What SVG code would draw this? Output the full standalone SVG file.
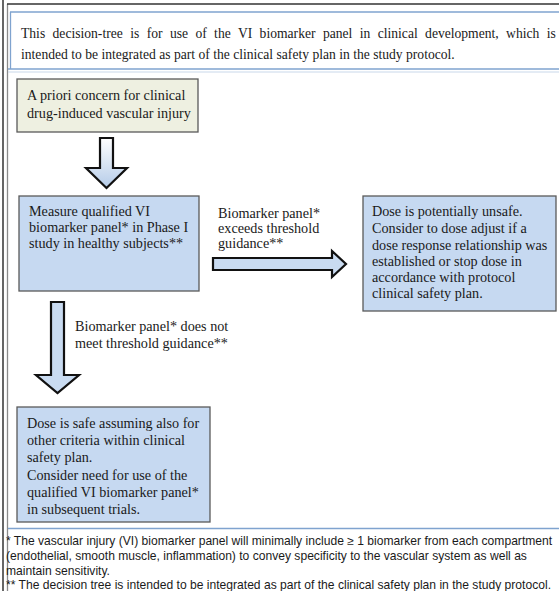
<svg xmlns="http://www.w3.org/2000/svg" width="559" height="591" viewBox="0 0 559 591">
  <defs>
    <linearGradient id="downFill" x1="0" y1="0" x2="0" y2="1">
      <stop offset="0" stop-color="#ffffff"/>
      <stop offset="1" stop-color="#b4cbe8"/>
    </linearGradient>
    <style>
      .serif { font-family: "Liberation Serif", "Times New Roman", serif; fill: #1a1a1a; }
      .head { font-size: 13.6px; }
      .justified { word-spacing: 4px; }
      .box-text { font-size: 14.2px; }
      .note { font-family: "Liberation Sans", Arial, sans-serif; font-size: 12.1px; fill: #1a1a1a; }
      .box { stroke: #5a5a5a; stroke-width: 1.3; }
      .blue { fill: #c6d9f1; }
      .cream { fill: #eef0e1; }
      .arrow { stroke: #111111; stroke-width: 2.2; stroke-linejoin: miter; }
      .frame { fill: none; stroke: #333333; stroke-width: 1.5; }
      .rule { stroke: #7fa3cf; stroke-width: 1.3; fill: none; }
    </style>
  </defs>

  <rect width="559" height="591" fill="#ffffff"/>

  <!-- page frame -->
  <g id="frame">
    <line class="frame" x1="3" y1="0" x2="3" y2="591"/>
    <line x1="7.5" y1="4" x2="7.5" y2="591" stroke="#8a8a8a" stroke-width="1.3"/>
    <line class="frame" x1="7" y1="4" x2="559" y2="4"/>
    <line class="rule" x1="10.5" y1="12" x2="10.5" y2="69"/>
    <line class="rule" x1="10" y1="12" x2="559" y2="12"/>
    <line class="rule" x1="8" y1="69" x2="559" y2="69"/>
    <line x1="8" y1="72" x2="559" y2="72" stroke="#c9d8ea" stroke-width="1"/>
    <line class="rule" x1="8" y1="528.5" x2="559" y2="528.5"/>
  </g>

  <!-- header note (first line justified) -->
  <g id="header">
    <text class="serif head justified" x="21" y="38">This decision-tree is for use of the VI biomarker panel in clinical development, which is</text>
    <text class="serif head" x="21" y="59">intended to be integrated as part of the clinical safety plan in the study protocol.</text>
  </g>

  <!-- decision nodes -->
  <g id="concern">
    <rect class="box cream" x="17" y="79" width="181" height="53"/>
    <text class="serif box-text" x="27" y="100">A priori concern for clinical</text>
    <text class="serif box-text" x="27" y="118">drug-induced vascular injury</text>
  </g>

  <g id="measure">
    <rect class="box blue" x="19" y="196" width="180" height="95"/>
    <text class="serif box-text" x="29" y="216">Measure qualified VI</text>
    <text class="serif box-text" x="29" y="232">biomarker panel* in Phase I</text>
    <text class="serif box-text" x="29" y="248">study in healthy subjects**</text>
  </g>

  <g id="unsafe">
    <rect class="box blue" x="363" y="196" width="193" height="115"/>
    <text class="serif box-text" x="372" y="216">Dose is potentially unsafe.</text>
    <text class="serif box-text" x="372" y="233">Consider to dose adjust if a</text>
    <text class="serif box-text" x="372" y="250">dose response relationship was</text>
    <text class="serif box-text" x="372" y="266">established or stop dose in</text>
    <text class="serif box-text" x="372" y="282">accordance with protocol</text>
    <text class="serif box-text" x="372" y="298">clinical safety plan.</text>
  </g>

  <g id="safe">
    <rect class="box blue" x="17" y="407" width="193" height="115"/>
    <text class="serif box-text" x="27" y="428">Dose is safe assuming also for</text>
    <text class="serif box-text" x="27" y="445">other criteria within clinical</text>
    <text class="serif box-text" x="27" y="462">safety plan.</text>
    <text class="serif box-text" x="27" y="480">Consider need for use of the</text>
    <text class="serif box-text" x="27" y="497">qualified VI biomarker panel*</text>
    <text class="serif box-text" x="27" y="514">in subsequent trials.</text>
  </g>

  <!-- connectors: block arrows with their labels -->
  <g id="connectors">
    <polygon class="arrow" fill="url(#downFill)" points="100,138 113,138 113,168 127,168 106.5,188 86,168 100,168"/>
    <polygon class="arrow" fill="#c9dbf1" points="213,258 332,258 332,251 346,264 332,277 332,270 213,270"/>
    <polygon class="arrow" fill="#c9dbf1" points="51,302 64,302 64,375 79,375 57.5,393 36,375 51,375"/>
    <text class="serif box-text" x="218" y="218">Biomarker panel*</text>
    <text class="serif box-text" x="218" y="233">exceeds threshold</text>
    <text class="serif box-text" x="218" y="248">guidance**</text>
    <text class="serif box-text" x="75" y="331">Biomarker panel* does not</text>
    <text class="serif box-text" x="75" y="348">meet threshold guidance**</text>
  </g>

  <!-- footnotes -->
  <g id="footnotes">
    <text class="note" x="6" y="545">* The vascular injury (VI) biomarker panel will minimally include ≥ 1 biomarker from each compartment</text>
    <text class="note" x="6" y="560">(endothelial, smooth muscle, inflammation) to convey specificity to the vascular system as well as</text>
    <text class="note" x="6" y="575">maintain sensitivity.</text>
    <text class="note" x="6" y="589">** The decision tree is intended to be integrated as part of the clinical safety plan in the study protocol.</text>
  </g>
</svg>
